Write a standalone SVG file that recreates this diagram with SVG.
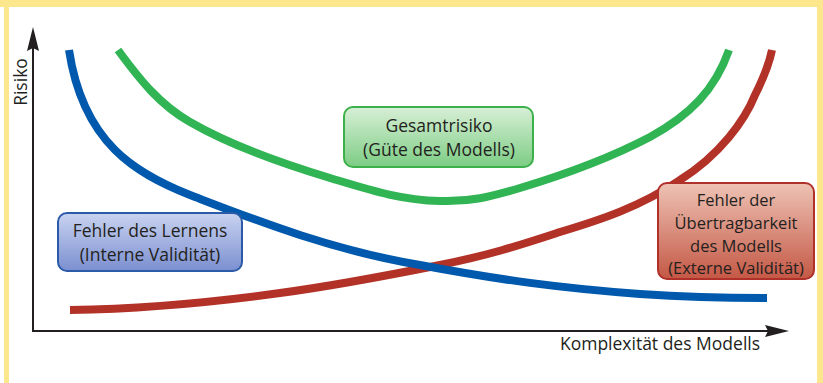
<svg xmlns="http://www.w3.org/2000/svg" width="823" height="383" viewBox="0 0 823 383">
  <style>
    .lbl { font-family: "Open Sans", "Liberation Sans", sans-serif; font-size: 17.5px; fill: #231f20; text-anchor: middle; }
    .sm { font-size: 16.5px; }
    .axis { stroke: #231f20; stroke-width: 2; fill: none; }
    .curve { fill: none; stroke-width: 8; stroke-linecap: butt; stroke-linejoin: round; }
    .frame { fill: #fce78c; }
  </style>
  <defs>
    <linearGradient id="gBlue" x1="0" y1="0" x2="0" y2="1">
      <stop offset="0" stop-color="#c9d3f0"/>
      <stop offset="1" stop-color="#7b8fd0"/>
    </linearGradient>
    <linearGradient id="gGreen" x1="0" y1="0" x2="0" y2="1">
      <stop offset="0" stop-color="#d8efd6"/>
      <stop offset="1" stop-color="#7ccd84"/>
    </linearGradient>
    <linearGradient id="gRed" x1="0" y1="0" x2="0" y2="1">
      <stop offset="0" stop-color="#eec3b5"/>
      <stop offset="1" stop-color="#c45845"/>
    </linearGradient>
  </defs>

  <rect width="823" height="383" fill="#ffffff"/>
  <g id="frame">
    <rect class="frame" x="0" y="0" width="823" height="7"/>
    <rect class="frame" x="4" y="0" width="5" height="383"/>
    <rect class="frame" x="817" y="0" width="6" height="383"/>
  </g>

  <g id="axes">
    <path class="axis" d="M33,331 L33,46"/>
    <path d="M33,27 L39,51 L33,48 L27,51 Z" fill="#231f20"/>
    <path class="axis" d="M32,331 L770,331"/>
    <path d="M789,331 L765,337 L768,331 L765,325 Z" fill="#231f20"/>
    <text class="lbl" transform="translate(27,82) rotate(-90)">Risiko</text>
    <text class="lbl" x="660" y="350">Komplexität des Modells</text>
  </g>

  <g id="connectors">
    <path id="curve-green" class="curve" stroke="#30b454" d="M118,50 C140,80 160,105 190,122 C230,145 280,163 330,178 C370,190 400,200 440,201 C470,202 490,197 520,188 C560,176 610,158 650,137 C690,115 715,90 729,50"/>
    <path id="curve-red" class="curve" stroke="#b23228" d="M70,310 C130,309 200,304 280,293 C340,285 390,275 440,265 C490,255 520,245 560,232 C600,220 640,207 680,180 C720,155 745,120 755,95 C765,75 770,60 772,50"/>
    <path id="curve-blue" class="curve" stroke="#0059ac" d="M69,50 C75,90 90,125 115,150 C135,170 160,183 190,195 C250,218 330,250 420,265 C500,280 560,288 640,294 C700,298 740,298 767,298"/>
  </g>

  <g id="node-gesamtrisiko">
    <rect x="344" y="107" width="189" height="60" rx="9" fill="url(#gGreen)" stroke="#3cb04a" stroke-width="2"/>
    <text class="lbl" x="439" y="132">Gesamtrisiko</text>
    <text class="lbl" x="439" y="156">(Güte des Modells)</text>
  </g>

  <g id="node-lernen">
    <rect x="58" y="213" width="184" height="58" rx="9" fill="url(#gBlue)" stroke="#2b5ba8" stroke-width="2"/>
    <text class="lbl" x="150" y="237">Fehler des Lernens</text>
    <text class="lbl" x="150" y="261">(Interne Validität)</text>
  </g>

  <g id="node-uebertragbarkeit">
    <rect x="658" y="183" width="156" height="96" rx="9" fill="url(#gRed)" stroke="#b0302a" stroke-width="2"/>
    <text class="lbl sm" x="736" y="206">Fehler der</text>
    <text class="lbl sm" x="736" y="229">Übertragbarkeit</text>
    <text class="lbl sm" x="736" y="252">des Modells</text>
    <text class="lbl sm" x="736" y="274">(Externe Validität)</text>
  </g>
</svg>
